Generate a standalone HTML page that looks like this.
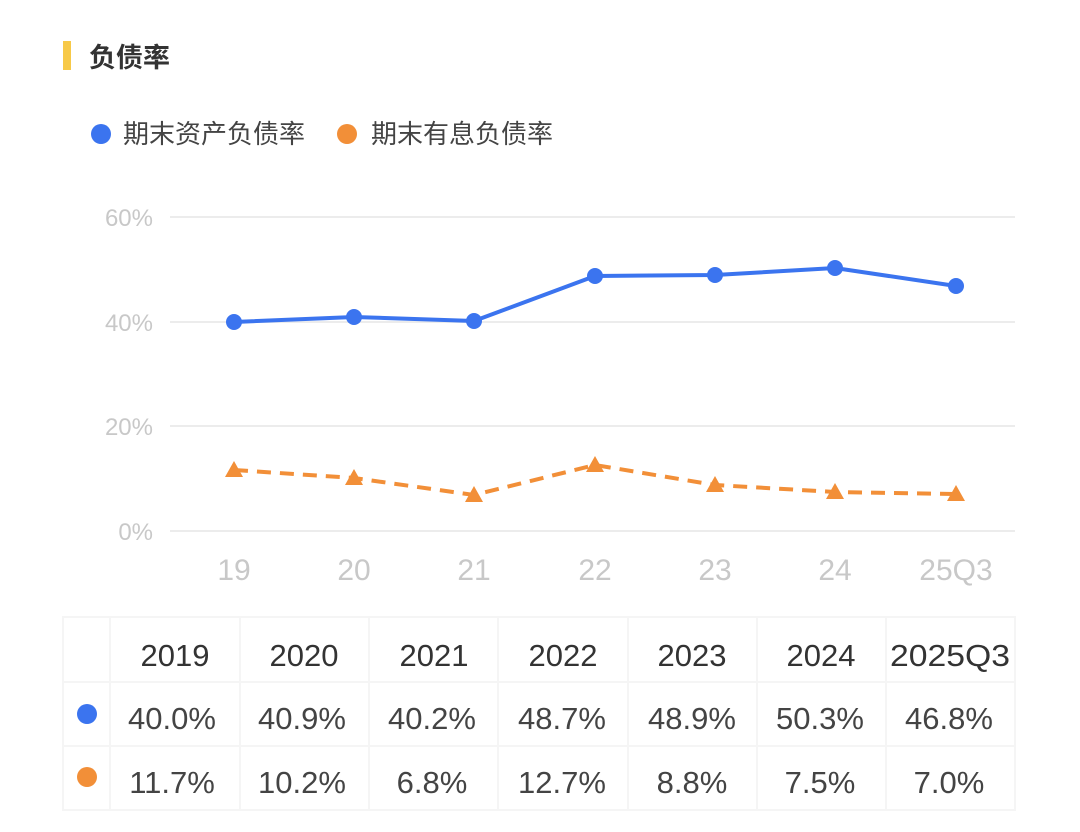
<!DOCTYPE html>
<html><head><meta charset="utf-8"><style>
body{margin:0;background:#fff;width:1080px;height:832px;overflow:hidden;font-family:"Liberation Sans","Noto Sans CJK SC",sans-serif;}
</style></head><body>
<svg width="1080" height="832" xmlns="http://www.w3.org/2000/svg" style="position:absolute;left:0;top:0">
<rect x="63" y="41" width="8" height="29" fill="#f7c948"/>
<text x="89" y="67" font-size="27" font-weight="bold" fill="#333" font-family="Liberation Sans,Noto Sans CJK SC,sans-serif">负债率</text>
<circle cx="101" cy="134" r="10" fill="#3b74ef"/>
<text x="123" y="143" font-size="26" fill="#444" font-family="Liberation Sans,Noto Sans CJK SC,sans-serif">期末资产负债率</text>
<circle cx="347" cy="134" r="10" fill="#f28f38"/>
<text x="371" y="143" font-size="26" fill="#444" font-family="Liberation Sans,Noto Sans CJK SC,sans-serif">期末有息负债率</text>
<g stroke="#ececec" stroke-width="2">
<line x1="170" y1="217" x2="1015" y2="217"/><line x1="170" y1="322" x2="1015" y2="322"/>
<line x1="170" y1="426" x2="1015" y2="426"/><line x1="170" y1="531" x2="1015" y2="531"/>
</g>
<g font-size="24" fill="#c8c8c8" text-anchor="end" font-family="Liberation Sans,sans-serif">
<text x="153" y="226">60%</text><text x="153" y="331">40%</text><text x="153" y="435">20%</text><text x="153" y="540">0%</text>
</g>
<g font-size="30" fill="#c8c8c8" text-anchor="middle" font-family="Liberation Sans,sans-serif">
<text x="234" y="580">19</text><text x="354" y="580">20</text><text x="474" y="580">21</text><text x="595" y="580">22</text><text x="715" y="580">23</text><text x="835" y="580">24</text><text x="956" y="580">25Q3</text>
</g>
<polyline fill="none" stroke="#3b74ef" stroke-width="4" points="234,322 354,317 474,321 595,276 715,275 835,268 956,286"/>
<g fill="#3b74ef"><circle cx="234" cy="322" r="8"/><circle cx="354" cy="317" r="8"/><circle cx="474" cy="321" r="8"/><circle cx="595" cy="276" r="8"/><circle cx="715" cy="275" r="8"/><circle cx="835" cy="268" r="8"/><circle cx="956" cy="286" r="8"/></g>
<polyline fill="none" stroke="#f28f38" stroke-width="4" stroke-dasharray="14,9" points="234,470 354,478 474,495 595,465 715,485 835,492 956,494"/>
<g fill="#f28f38">
<polygon points="234,461 243,477 225,477"/><polygon points="354,469 363,485 345,485"/><polygon points="474,486 483,502 465,502"/><polygon points="595,456 604,472 586,472"/><polygon points="715,476 724,492 706,492"/><polygon points="835,483 844,499 826,499"/><polygon points="956,485 965,501 947,501"/>
</g>
<g stroke="#f5f5f5" stroke-width="2" fill="none">
<rect x="63" y="617" width="952" height="193"/>
<line x1="63" y1="682" x2="1015" y2="682"/><line x1="63" y1="746" x2="1015" y2="746"/>
<line x1="110" y1="617" x2="110" y2="810"/><line x1="240" y1="617" x2="240" y2="810"/><line x1="369" y1="617" x2="369" y2="810"/><line x1="498" y1="617" x2="498" y2="810"/><line x1="628" y1="617" x2="628" y2="810"/><line x1="757" y1="617" x2="757" y2="810"/><line x1="886" y1="617" x2="886" y2="810"/>
</g>
<g font-size="31" fill="#333" text-anchor="middle" font-family="Liberation Sans,sans-serif">
<text x="175" y="666">2019</text><text x="304" y="666">2020</text><text x="434" y="666">2021</text><text x="563" y="666">2022</text><text x="692" y="666">2023</text><text x="821" y="666">2024</text><text x="950" y="666" textLength="120" lengthAdjust="spacingAndGlyphs">2025Q3</text>
</g>
<g font-size="31" fill="#444" text-anchor="middle" font-family="Liberation Sans,sans-serif">
<text x="172" y="729">40.0%</text><text x="302" y="729">40.9%</text><text x="432" y="729">40.2%</text><text x="562" y="729">48.7%</text><text x="692" y="729">48.9%</text><text x="820" y="729">50.3%</text><text x="949" y="729">46.8%</text>
<text x="172" y="793">11.7%</text><text x="302" y="793">10.2%</text><text x="432" y="793">6.8%</text><text x="562" y="793">12.7%</text><text x="692" y="793">8.8%</text><text x="820" y="793">7.5%</text><text x="949" y="793">7.0%</text>
</g>
<circle cx="87" cy="714" r="10" fill="#3b74ef"/>
<circle cx="87" cy="777" r="10" fill="#f28f38"/>
</svg>
</body></html>
